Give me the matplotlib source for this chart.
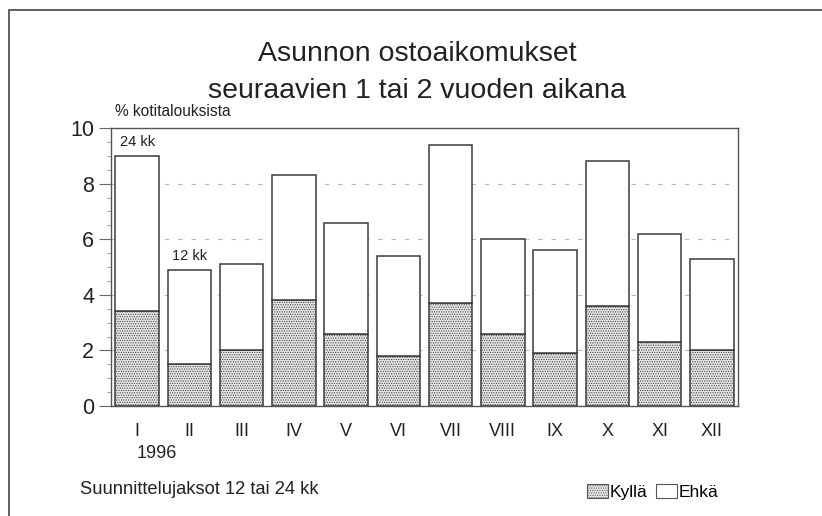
import matplotlib
matplotlib.use("Agg")
import matplotlib.pyplot as plt
from matplotlib.patches import Rectangle, Patch
import numpy as np

months = ["I", "II", "III", "IV", "V", "VI", "VII", "VIII", "IX", "X", "XI", "XII"]
kylla = [3.4, 1.5, 2.0, 3.8, 2.6, 1.8, 3.7, 2.6, 1.9, 3.6, 2.3, 2.0]
total = [9.0, 4.9, 5.1, 8.3, 6.6, 5.4, 9.4, 6.0, 5.6, 8.8, 6.2, 5.3]
ehka = [t - k for t, k in zip(total, kylla)]
yticks = [0, 2, 4, 6, 8, 10]

plt.rcParams['font.family'] = ['Liberation Sans', 'DejaVu Sans']
plt.rcParams['hatch.color'] = '#b0b0b0'
plt.rcParams['hatch.linewidth'] = 0.5

fig = plt.figure(figsize=(8.22, 5.16), dpi=100)
ax = fig.add_axes([111/822, 110/516, 627/822, 278/516])

x = np.arange(len(months))
edge = '#3a3a3a'
ax.bar(x, kylla, width=0.83, color='#e4e4e4', edgecolor=edge, linewidth=1.1,
       hatch='.......', zorder=3)
ax.bar(x, ehka, width=0.83, bottom=kylla, color='white', edgecolor=edge,
       linewidth=1.1, zorder=3)

ax.set_xlim(-0.5, 11.5)
ax.set_ylim(0, 10)
ax.set_yticks(yticks)
ax.set_yticklabels([str(v) for v in yticks], fontsize=15.5, color='#222222')
ax.set_yticks(np.arange(0, 10.01, 0.5), minor=True)
ax.tick_params(axis='y', which='major', direction='out', length=9, width=0.8,
               color='#666666', pad=3)
ax.tick_params(axis='y', which='minor', direction='out', length=3, width=0.6,
               color='#888888')
ax.set_xticks(x)
ax.set_xticklabels(months, fontsize=13, color='#222222')
ax.tick_params(axis='x', length=0, pad=12)

for v in [2, 4, 6, 8]:
    ax.axhline(v, color='#bbbbbb', linestyle=(0, (4, 8)), linewidth=0.8, zorder=1)

for s in ax.spines.values():
    s.set_color('#555555')
    s.set_linewidth(1.0)

ax.text(0, total[0] + 0.25, "24 kk", fontsize=10.5, ha='center', va='bottom', color='#222222')
ax.text(1, total[1] + 0.25, "12 kk", fontsize=10.5, ha='center', va='bottom', color='#222222')

fig.text(115/822, 1 - 112/516, "% kotitalouksista", fontsize=11.2, ha='left', va='center', color='#222222')
fig.text(417/822, 1 - 61/516, "Asunnon ostoaikomukset", fontsize=20.5, ha='center', va='baseline', color='#222222')
fig.text(417/822, 1 - 98/516, "seuraavien 1 tai 2 vuoden aikana", fontsize=20.5, ha='center', va='baseline', color='#222222')
fig.text(157/822, 1 - 454/516, "1996", fontsize=13, ha='center', va='center', color='#222222')
fig.text(80/822, 1 - 489/516, "Suunnittelujaksot 12 tai 24 kk", fontsize=13.2, ha='left', va='center', color='#222222')

handles = [Patch(facecolor='#e4e4e4', edgecolor='#555555', hatch='.......', linewidth=0.8),
           Patch(facecolor='white', edgecolor='#555555', linewidth=0.8)]
leg = fig.legend(handles, ["Kyllä", "Ehkä"], loc='center', bbox_to_anchor=(653/822, 1 - 492/516),
                 ncol=2, frameon=False, fontsize=12.5, handlelength=1.2, handleheight=0.85,
                 handletextpad=0.1, columnspacing=0.5)

# outer frame
fig.patches.append(Rectangle((9/822, -0.05), 1.1, 1 - 10/516 + 0.05, transform=fig.transFigure,
                             fill=False, edgecolor='#444444', linewidth=1.2))

fig.savefig("out.png", dpi=100)
